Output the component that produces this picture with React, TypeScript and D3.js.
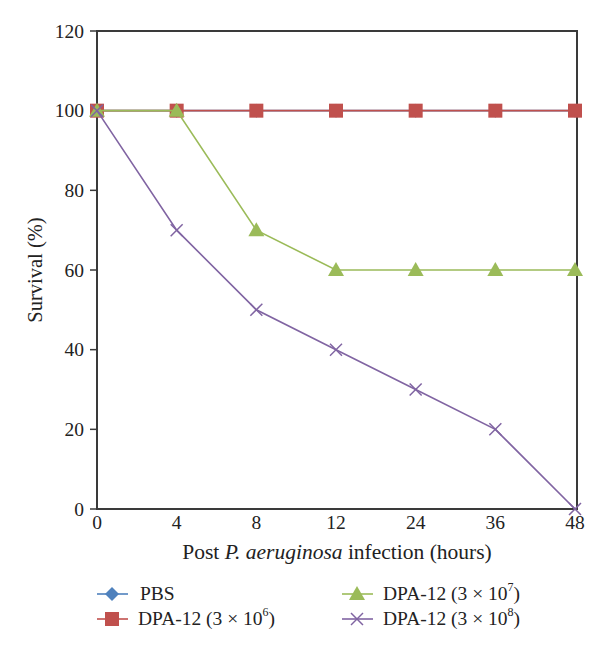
import React from "react";
import * as d3 from "d3";

const categories = ["0", "4", "8", "12", "24", "36", "48"];
const pbs = [100, 100, 100, 100, 100, 100, 100];
const dpa6 = [100, 100, 100, 100, 100, 100, 100];
const dpa7 = [100, 100, 70, 60, 60, 60, 60];
const dpa8 = [100, 70, 50, 40, 30, 20, 0];
const yTicks = [0, 20, 40, 60, 80, 100, 120];

const W = 600, H = 650;
const left = 97, right = 575, frameRight = 577, top = 31, bottom = 509;
const font = "'Liberation Serif', 'DejaVu Serif', serif";
const fs = 19.5;

const series = [
  { name: "PBS", exp: "", values: pbs, color: "#4F81BD", marker: "diamond" },
  { name: "DPA-12 (3 × 10", exp: "6", values: dpa6, color: "#C0504D", marker: "square" },
  { name: "DPA-12 (3 × 10", exp: "7", values: dpa7, color: "#9BBB59", marker: "triangle" },
  { name: "DPA-12 (3 × 10", exp: "8", values: dpa8, color: "#8064A2", marker: "x" },
];

function Marker({ type, x, y, color }: { type: string; x: number; y: number; color: string }) {
  if (type === "square") return <rect x={x - 7} y={y - 7} width={14} height={14} fill={color} />;
  if (type === "diamond") return <path d={`M${x},${y - 7}L${x + 7},${y}L${x},${y + 7}L${x - 7},${y}Z`} fill={color} />;
  if (type === "triangle") return <path d={`M${x},${y - 8}L${x + 8},${y + 6}L${x - 8},${y + 6}Z`} fill={color} />;
  return (
    <g stroke={color} strokeWidth={1.5}>
      <line x1={x - 6} y1={y - 6} x2={x + 6} y2={y + 6} />
      <line x1={x - 6} y1={y + 6} x2={x + 6} y2={y - 6} />
    </g>
  );
}

export default function App() {
  const x = d3.scalePoint<string>().domain(categories).range([left, right]);
  const y = d3.scaleLinear().domain([0, 120]).range([bottom, top]);
  const line = d3.line<number>().x((_, i) => x(categories[i])!).y((d) => y(d));

  const legend = [
    { s: series[0], lx: 97, ly: 594, tx: 140 },
    { s: series[1], lx: 97, ly: 619, tx: 138 },
    { s: series[2], lx: 342, ly: 594, tx: 383 },
    { s: series[3], lx: 342, ly: 619, tx: 383 },
  ];

  return (
    <svg width={W} height={H} style={{ position: "absolute", left: 0, top: 0, background: "#fff" }} fontFamily={font}>
      <rect x={0} y={0} width={W} height={H} fill="#fff" />
      <rect x={left} y={top} width={frameRight - left} height={bottom - top} fill="none" stroke="#3a3a3a" strokeWidth={2} />
      {yTicks.map((t) => (
        <g key={t}>
          <line x1={left - 7} x2={left} y1={y(t)} y2={y(t)} stroke="#3a3a3a" strokeWidth={1.5} />
          <text x={left - 13} y={y(t)} textAnchor="end" dominantBaseline="central" fontSize={fs} fill="#222">{t}</text>
        </g>
      ))}
      {categories.map((c) => (
        <text key={c} x={x(c)!} y={bottom + 13} textAnchor="middle" dominantBaseline="central" fontSize={fs} fill="#222">{c}</text>
      ))}
      <text transform={`translate(35,${(top + bottom) / 2}) rotate(-90)`} textAnchor="middle" dominantBaseline="central" fontSize={20.5} fill="#222">Survival (%)</text>
      <text x={337} y={552} textAnchor="middle" dominantBaseline="central" fontSize={21.5} fill="#222">
        Post <tspan fontStyle="italic">P. aeruginosa</tspan> infection (hours)
      </text>
      {series.map((s) => (
        <g key={s.name + s.exp}>
          <path d={line(s.values)!} fill="none" stroke={s.color} strokeWidth={1.6} />
          {s.values.map((v, i) => (
            <Marker key={i} type={s.marker} x={x(categories[i])!} y={y(v)} color={s.color} />
          ))}
        </g>
      ))}
      {legend.map(({ s, lx, ly, tx }) => (
        <g key={s.name + s.exp}>
          <line x1={lx} x2={lx + 31} y1={ly} y2={ly} stroke={s.color} strokeWidth={1.6} />
          <Marker type={s.marker} x={lx + 15} y={ly} color={s.color} />
          <text x={tx} y={ly + 6} fontSize={fs} fill="#222">
            {s.name}
            {s.exp && (
              <>
                <tspan fontSize={12} dy={-9}>{s.exp}</tspan>
                <tspan dy={9}>)</tspan>
              </>
            )}
          </text>
        </g>
      ))}
    </svg>
  );
}
